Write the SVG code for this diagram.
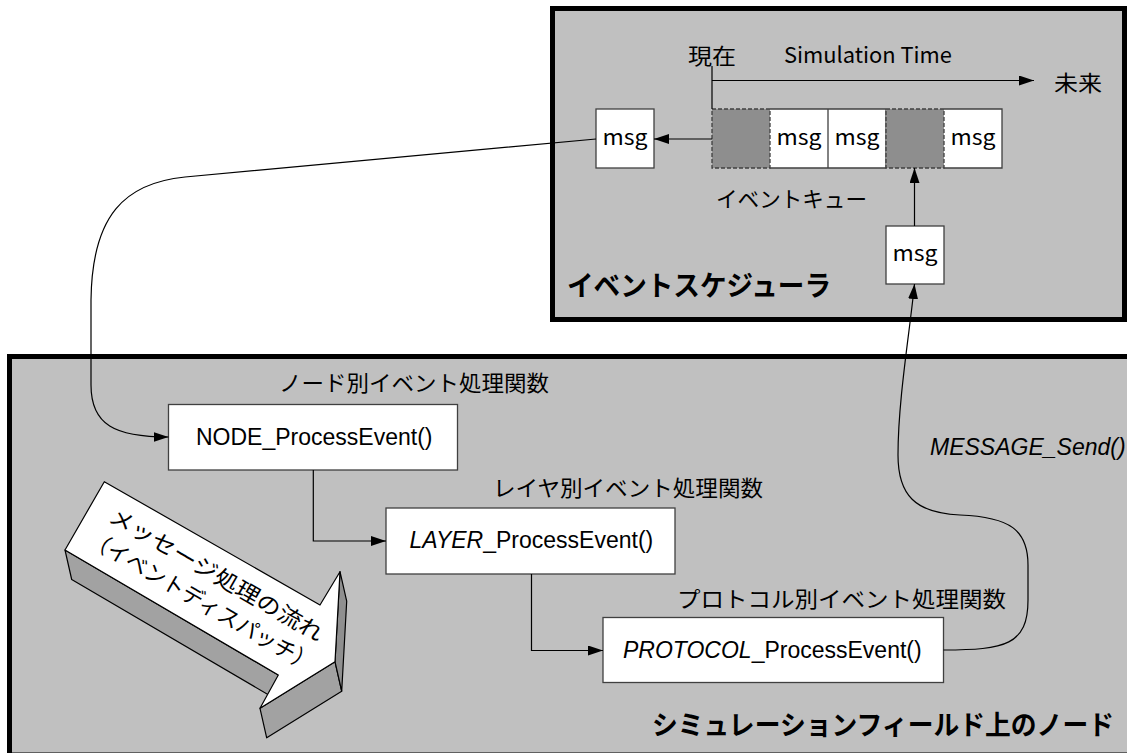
<svg xmlns="http://www.w3.org/2000/svg" width="1127" height="753" viewBox="0 0 1127 753">
<defs>
<marker id="ah" markerUnits="userSpaceOnUse" markerWidth="16" markerHeight="10" refX="15" refY="5" orient="auto">
<path d="M0,0 L15,5 L0,10 z" fill="#000"/>
</marker>
<style>
.frame{fill:#c0c0c0;stroke:#000;stroke-width:5}
.box{fill:#fff;stroke:#404040;stroke-width:1.3}
.wcell{fill:#fff;stroke:none}
.dark{fill:#8e8e8e;stroke:#404040;stroke-width:1.3;stroke-dasharray:4 2}
.edge{fill:none;stroke:#404040;stroke-width:1.3}
.conn{fill:none;stroke:#000;stroke-width:1.2}
.jp{font-family:"Noto Sans CJK JP","Noto Sans",sans-serif;font-size:22px;fill:#000}
.jpb{font-family:"Noto Sans CJK JP","Noto Sans",sans-serif;font-weight:700;fill:#000}
.lat{font-family:"Liberation Sans",Arial,sans-serif;font-size:23px;fill:#000}
.msg{font-family:"Noto Sans CJK JP","Noto Sans",sans-serif;font-size:21px;text-anchor:middle;fill:#000}
.face{stroke:#000;stroke-width:1.2;stroke-linejoin:round}
</style>
</defs>
<rect x="0" y="0" width="1127" height="753" fill="#fff"/>

<g id="event-scheduler">
<rect class="frame" x="552.5" y="8.5" width="572" height="311"/>
<text class="jpb" font-size="28" x="567" y="296" textLength="264" lengthAdjust="spacingAndGlyphs">イベントスケジューラ</text>
</g>

<g id="simulation-field">
<rect class="frame" x="9.5" y="356.5" width="1130" height="398.5"/>
<text class="jpb" font-size="27" x="652" y="735" textLength="462" lengthAdjust="spacingAndGlyphs">シミュレーションフィールド上のノード</text>
</g>

<g id="timeline">
<text class="jp" x="688" y="63.5" textLength="48" lengthAdjust="spacingAndGlyphs">現在</text>
<text class="jp" x="784" y="63" textLength="168" lengthAdjust="spacingAndGlyphs">Simulation Time</text>
<text class="jp" x="1054" y="91" textLength="48" lengthAdjust="spacingAndGlyphs">未来</text>
</g>

<g id="event-queue">
<rect class="wcell" x="770" y="109" width="116" height="59"/>
<rect class="wcell" x="944" y="109" width="58" height="59"/>
<path class="edge" d="M770 109 H886 M770 168 H886 M828 109 V168 M886 109 V168 M944 109 H1002 V168 H944"/>
<rect class="dark" x="712" y="109" width="58" height="59"/>
<rect class="dark" x="886" y="109" width="58" height="59"/>
<text class="msg" x="799" y="145" textLength="45" lengthAdjust="spacingAndGlyphs">msg</text>
<text class="msg" x="857" y="145" textLength="45" lengthAdjust="spacingAndGlyphs">msg</text>
<text class="msg" x="973" y="145" textLength="45" lengthAdjust="spacingAndGlyphs">msg</text>
<text class="jp" x="716" y="206.5" textLength="151" lengthAdjust="spacingAndGlyphs">イベントキュー</text>
</g>

<g id="msg-out">
<rect class="box" x="596" y="109" width="58" height="59"/>
<text class="msg" x="625" y="145" textLength="45" lengthAdjust="spacingAndGlyphs">msg</text>
</g>

<g id="msg-in">
<rect class="box" x="886" y="226" width="58" height="58"/>
<text class="msg" x="915" y="261" textLength="45" lengthAdjust="spacingAndGlyphs">msg</text>
</g>

<g id="node-process">
<text class="jp" x="279" y="391" textLength="270" lengthAdjust="spacingAndGlyphs">ノード別イベント処理関数</text>
<rect class="box" x="168.5" y="404.5" width="289" height="65.5"/>
<text class="lat" x="196" y="444.5">NODE_ProcessEvent()</text>
</g>

<g id="layer-process">
<text class="jp" x="493" y="496" textLength="270" lengthAdjust="spacingAndGlyphs">レイヤ別イベント処理関数</text>
<rect class="box" x="386" y="508" width="289" height="66"/>
<text class="lat" x="409.5" y="548"><tspan font-style="italic">LAYER</tspan>_ProcessEvent()</text>
</g>

<g id="protocol-process">
<text class="jp" x="677" y="607" textLength="329" lengthAdjust="spacingAndGlyphs">プロトコル別イベント処理関数</text>
<rect class="box" x="603" y="617.5" width="340.5" height="65"/>
<text class="lat" x="623" y="658"><tspan font-style="italic">PROTOCOL</tspan>_ProcessEvent()</text>
</g>

<g id="dispatch-arrow">
<polygon class="face" fill="#a2a2a2" points="65,550 278.3,675 285,704.5 71.7,579.5"/>
<polygon class="face" fill="#a2a2a2" points="335,661.7 260,708.3 266.7,737.8 341.7,691.2"/>
<polygon class="face" fill="#8f8f8f" points="340,571.7 335,661.7 341.7,691.2 346.7,601.2"/>
<polygon class="face" fill="#fff" points="104.3,481.7 320,605 340,571.7 335,661.7 260,708.3 278.3,675 65,550"/>
<g transform="translate(104.3,481.7) rotate(30)">
<text class="jp" x="143.5" y="32.4" text-anchor="middle" textLength="243" lengthAdjust="spacingAndGlyphs">メッセージ処理の流れ</text>
<text class="jp" x="144" y="63" text-anchor="middle" textLength="257" lengthAdjust="spacingAndGlyphs">（イベントディスパッチ）</text>
</g>
</g>

<g id="connectors">
<path class="conn" d="M712 66 V109"/>
<path class="conn" marker-end="url(#ah)" d="M712 80.5 H1034"/>
<path class="conn" marker-end="url(#ah)" d="M712 139 H654"/>
<path class="conn" marker-end="url(#ah)" d="M914.5 226 V168"/>
<path class="conn" marker-end="url(#ah)" d="M596 139 L185 177 C125 183 92 215 91 300 L91 385 C91 425 115 437 168.5 437"/>
<path class="conn" marker-end="url(#ah)" d="M313.3 470 V541 H386"/>
<path class="conn" marker-end="url(#ah)" d="M531.5 574 V650.5 H603"/>
<path class="conn" marker-end="url(#ah)" d="M943.5 650 C1005 650 1028 645 1028 600 L1028 565 C1028 530 1010 517 960 515 C915 513 898 495 898 455 C898 400 910 330 914.5 284"/>
<text class="lat" font-size="22" font-style="italic" x="930" y="455">MESSAGE_Send()</text>
</g>
</svg>
